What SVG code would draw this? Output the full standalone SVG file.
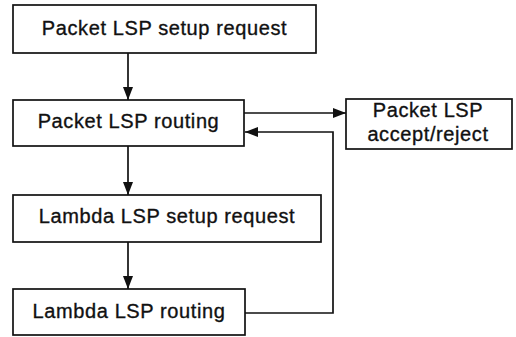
<svg xmlns="http://www.w3.org/2000/svg" width="516" height="337" viewBox="0 0 516 337">
<style>
.box{fill:#fff;stroke:#111;stroke-width:1.7}
.t{font-family:"Liberation Sans",Arial,sans-serif;font-size:20px;letter-spacing:0.6px;fill:#111;stroke:#111;stroke-width:0.35;text-anchor:middle}
.c{fill:none;stroke:#111;stroke-width:1.7}
</style>
<defs>
<marker id="ah" viewBox="0 0 13 10" refX="13" refY="5" markerWidth="13" markerHeight="10" markerUnits="userSpaceOnUse" orient="auto">
<path d="M0,0 L13,5 L0,10 Z" fill="#111"/>
</marker>
</defs>
<rect width="516" height="337" fill="#fff"/>
<g id="n1"><rect class="box" x="13" y="5" width="303" height="48"/><text class="t" x="164.5" y="35">Packet LSP setup request</text></g>
<g id="n2"><rect class="box" x="13" y="100" width="231" height="46"/><text class="t" x="128.5" y="128">Packet LSP routing</text></g>
<g id="n3"><rect class="box" x="13" y="195" width="308" height="47"/><text class="t" x="167" y="223">Lambda LSP setup request</text></g>
<g id="n4"><rect class="box" x="13" y="289" width="232" height="46"/><text class="t" x="129" y="318">Lambda LSP routing</text></g>
<g id="n5"><rect class="box" x="346" y="99" width="166" height="50"/><text class="t" x="428" y="117">Packet LSP</text><text class="t" x="428" y="141">accept/reject</text></g>
<g id="connectors">
<path class="c" d="M128,53 L128,100" marker-end="url(#ah)"/>
<path class="c" d="M128,146 L128,195" marker-end="url(#ah)"/>
<path class="c" d="M128,242 L128,289" marker-end="url(#ah)"/>
<path class="c" d="M244,113 L346,113" marker-end="url(#ah)"/>
<path class="c" d="M245,313 L333,313 L333,132 L245,132" marker-end="url(#ah)"/>
</g>
</svg>
